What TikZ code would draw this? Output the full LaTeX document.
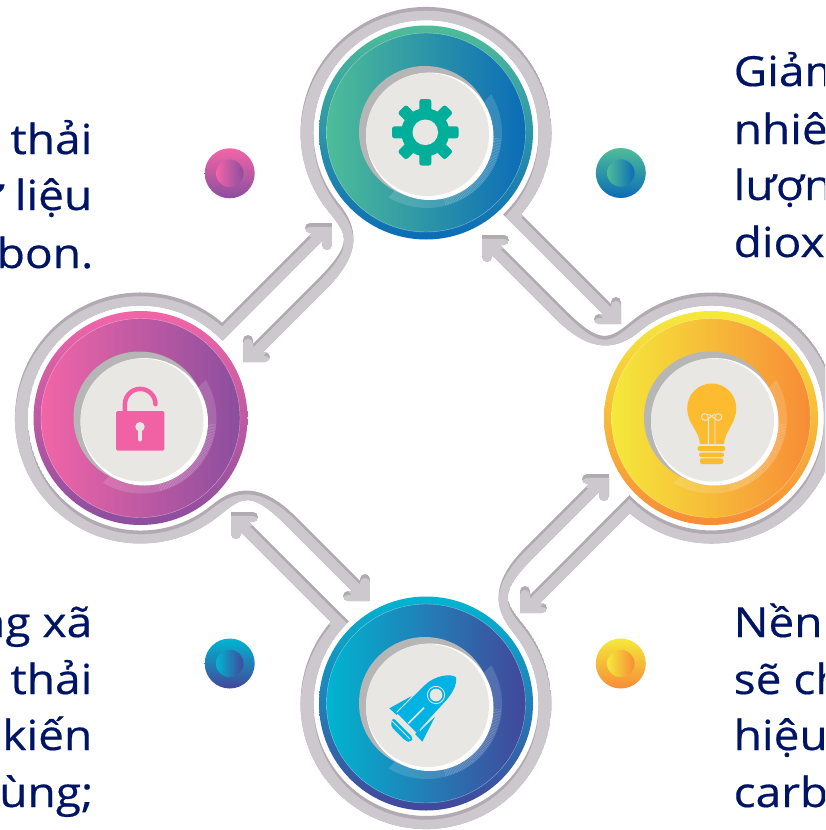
\documentclass[tikz,border=0pt]{standalone}
\usepackage{fontspec}
\newfontfamily\txtfont[FakeStretch=1.11,FakeBold=0.45]{Open Sans}
\definecolor{ringc}{HTML}{CDC8CE}
\definecolor{ringd}{HTML}{B2AAB2}
\definecolor{hubc}{HTML}{E8E7E3}
\definecolor{hubg}{HTML}{B6B6B7}
\definecolor{navy}{HTML}{001466}
\definecolor{tA}{HTML}{4EBD98}\definecolor{tB}{HTML}{0B6CB7}
\definecolor{rA}{HTML}{F5E93A}\definecolor{rB}{HTML}{F78C37}
\definecolor{lA}{HTML}{F265A7}\definecolor{lB}{HTML}{8B4E9E}
\definecolor{bA}{HTML}{00B5D1}\definecolor{bB}{HTML}{43479B}
\definecolor{gearc}{HTML}{00AF9A}
\definecolor{bulbc}{HTML}{FDBB30}
\definecolor{lockc}{HTML}{F162A5}
\definecolor{rockc}{HTML}{00B3E3}
\tikzset{
  rimdisc/.style={circle,inner sep=0pt,minimum size=214pt},
  coredisc/.style={circle,inner sep=0pt,minimum size=199pt,draw=white,draw opacity=.45,line width=.4pt},
  hubdisc/.style={circle,inner sep=0pt,fill=#1},
  dotouter/.style={circle,inner sep=0pt,minimum size=50pt},
  dotinner/.style={circle,inner sep=0pt,minimum size=27.5pt},
  txt/.style={inner sep=0pt,text=navy,font=\txtfont\fontsize{41.5}{48}\selectfont},
}
% outline of one ring with its two arrows, for the top ring
\newcommand\ribpath{%
  (243,362) -- (265,362) arc[start angle=90,end angle=-90,radius=5pt]
  -- (263.2,352) -- (326.6,288.6) .. controls (362.6,252.6) and (357.9,227) .. (338.9,203.8)
  arc[start angle=140.7,end angle=406.7,radius=112.5pt]
  -- (602.8,314) -- (599,314) arc[start angle=270,end angle=90,radius=5pt]
  -- (621,324) -- (621,302) arc[start angle=0,end angle=-180,radius=5pt]
  -- (611,303.8) -- (521.3,214.1)
  arc[start angle=400.6,end angle=140.7,radius=125.5pt]
  .. controls (347.9,235.2) and (353.4,243.4) .. (317.4,279.4)
  -- (253,343.8) -- (253,340) arc[start angle=0,end angle=-180,radius=5pt] -- cycle}
\newcommand\discgroup[5]{%
  \node[rimdisc,top color=#4,bottom color=#5] (#1rim) at (#2,#3) {};
  \node[coredisc,left color=#4,right color=#5] (#1core) at (#2,#3) {};
  \begin{scope}[shift={(#2,#3)}]
    \begin{scope}
      \clip (127,-100) -- (-100,127) -- (150,150) -- (150,-100) -- cycle;
      \fill[white,opacity=.14] (1,0.5) circle[radius=75pt];
      \foreach \a in {5,6.2,...,75}
        \draw[white,opacity=.28,line width=.3pt] (\a:62) -- (\a:75.5);
    \end{scope}
    \node[hubdisc=hubg,minimum size=132pt] (#1grey) at (-1,-0.5) {};
    \node[hubdisc=white,minimum size=127.4pt] (#1white) at (3.8,3.8) {};
    \node[hubdisc=hubc,minimum size=123pt] (#1hub) at (1.5,2) {};
  \end{scope}
}
\newcommand\smalldot[5]{%
  \node[dotouter,top color=#4,bottom color=#5] (#1out) at (#2,#3) {};
  \node[dotinner,left color=#4,right color=#5] (#1in) at (#2,#3) {};
}
\begin{document}
\begin{tikzpicture}[x=1pt,y=1pt,yscale=-1]
\path[use as bounding box] (0,0) rectangle (825,830);
\clip (0,0) rectangle (825,830);
\fill[white] (0,0) rectangle (825,830);
% rings, each with a darker band where its edge faces upward
\foreach \r in {0,90,180,270}{
  \begin{scope}
    \clip[rotate around={\r:(426,418)}] \ribpath;
    \fill[ringd,rotate around={\r:(426,418)}] \ribpath;
    \fill[ringc,shift={(0,3.8)},rotate around={\r:(426,418)}] \ribpath;
  \end{scope}
}
% discs
\discgroup{top}{426}{132.5}{tA}{tB}
\discgroup{right}{711}{418}{rA}{rB}
\discgroup{left}{140.5}{418}{lA}{lB}
\discgroup{bottom}{426}{703.5}{bA}{bB}
% small dots
\smalldot{dl}{229.7}{173.3}{lA}{lB}
\smalldot{dr}{620.8}{173}{tA}{tB}
\smalldot{db}{229.7}{663.5}{bA}{bB}
\smalldot{dy}{620.8}{663.5}{rA}{rB}
% gear
\begin{scope}[shift={(425.3,132.3)}]
  \fill[gearc] (0,0) circle[radius=24pt];
  \foreach \a in {0,45,...,315}
    \fill[gearc,rounded corners=2.5pt,rotate=\a] (-6,-33.3) rectangle (6,0);
  \fill[hubc] (0,0) circle[radius=12.8pt];
\end{scope}
% bulb
\fill[bulbc] (700,444) .. controls (699,430) and (687.2,424) .. (687.2,408)
   arc[start angle=180,end angle=360,radius=24.5pt]
   .. controls (736.2,424) and (725,430) .. (724,444) -- cycle;
\fill[bulbc,rounded corners=1.5pt] (697.7,446) rectangle (725,451);
\fill[bulbc,rounded corners=1.5pt] (699,452.7) rectangle (724,457);
\fill[bulbc,rounded corners=2pt] (700,458.3) rectangle (723.3,464);
\draw[hubc,line width=.9pt] (708.3,444) -- (708.3,417) arc[start angle=0,end angle=-300,radius=3.4pt] -- (714.8,414);
\draw[hubc,line width=.9pt] (715,444) -- (715,417) arc[start angle=180,end angle=480,radius=3.4pt] -- (708.5,414);
% lock
\draw[lockc,line width=4.5pt,line cap=round] (124.9,413) -- (124.9,404.2) arc[start angle=180,end angle=360,radius=15.3pt];
\fill[lockc,rounded corners=1.5pt] (116,411) rectangle (164.3,450.7);
\fill[hubc] (140,426.7) circle[radius=4.7pt];
\draw[hubc,line width=4pt,line cap=round] (140,428) -- (140,439.5);
% rocket
\begin{scope}[shift={(380,660)},scale=0.3333]
  \fill[rockc] (228,52) .. controls (215,40) and (165,45) .. (135,75) -- (50,158) -- (110,218) -- (190,130) .. controls (215,105) and (232,75) .. (228,52) -- cycle;
  \fill[rockc] (95,108) -- (28,145) -- (50,165) -- cycle;
  \fill[rockc] (165,170) -- (127,245) -- (105,222) -- cycle;
  \fill[rockc,rounded corners=3pt] (38,172) -- (100,234) -- (92,246) -- (78,244) -- (32,198) -- cycle;
  \draw[hubc,line width=.8pt] (95,112) -- (50,157);
  \draw[hubc,line width=.8pt] (165,167) -- (120,212);
  \draw[hubc,line width=1pt] (45,165) -- (108,228);
  \draw[hubc,line width=.8pt] (36,183) -- (90,237);
  \draw[hubc,line width=1.6pt] (132,143) -- (85,190);
  \draw[hubc,line width=.8pt] (168,105) circle[radius=26];
  \fill[hubc] (168,105) circle[radius=19];
\end{scope}
% texts
\node[txt,anchor=base east] (tl1) at (92.5,154) {thải};
\node[txt,anchor=base east] (tl2) at (92.5,210) {ư liệu};
\node[txt,anchor=base east] (tl3) at (93.5,268) {rbon.};
\node[txt,anchor=base west] (tr1) at (733.5,86) {Giảm};
\node[txt,anchor=base west] (tr2) at (733.5,144) {nhiê};
\node[txt,anchor=base west] (tr3) at (733.5,200) {lượn};
\node[txt,anchor=base west] (tr4) at (733.5,257) {dioxi};
\node[txt,anchor=base east] (bl1) at (92.5,637) {ng xã};
\node[txt,anchor=base east] (bl2) at (92.5,694) {thải};
\node[txt,anchor=base east] (bl3) at (92.5,750) {kiến};
\node[txt,anchor=base east] (bl4) at (93.5,807) {ùng;};
\node[txt,anchor=base west] (br1) at (733.5,637) {Nền};
\node[txt,anchor=base west] (br2) at (733.5,694) {sẽ ch};
\node[txt,anchor=base west] (br3) at (733.5,750) {hiệu};
\node[txt,anchor=base west] (br4) at (733.5,807) {carb};
\end{tikzpicture}
\end{document}
